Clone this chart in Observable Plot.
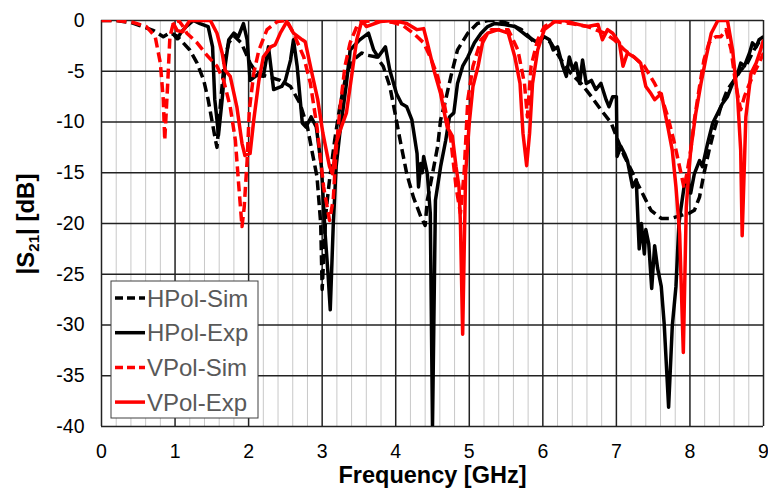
<!DOCTYPE html>
<html><head><meta charset="utf-8">
<script src="https://cdn.jsdelivr.net/npm/d3@7"></script>
<script src="https://cdn.jsdelivr.net/npm/@observablehq/plot@0.6"></script>
<style>body{margin:0;background:#fff} svg{display:block}</style>
</head><body><div id="chart"></div>
<script>
const xMajor = [0,1,2,3,4,5,6,7,8,9];
const xMinor = [0.2,0.4,0.6,0.8,1.2,1.4,1.6,1.8,2.2,2.4,2.6,2.8,3.2,3.4,3.6,3.8,4.2,4.4,4.6,4.8,5.2,5.4,5.6,5.8,6.2,6.4,6.6,6.8,7.2,7.4,7.6,7.8,8.2,8.4,8.6,8.8];
const yMajor = [0,-5,-10,-15,-20,-25,-30,-35,-40];

const seriesNames = ["HPol-Sim","HPol-Exp","VPol-Sim","VPol-Exp"];
const seriesColors = ["#000000","#000000","#ff0000","#ff0000"];
const seriesDashed = [true,false,true,false];

const hpolSim = [[0,0],[0.2,0],[0.4,-0.2],[0.52,-0.5],[0.71,-1.0],[0.84,-1.6],[0.93,-1.2],[1.02,-1.5],[1.11,-2.2],[1.2,-2.9],[1.3,-4.2],[1.39,-5.9],[1.45,-7.8],[1.5,-9.8],[1.55,-11.8],[1.57,-12.5],[1.62,-8],[1.67,-4],[1.73,-2.2],[1.8,-1.5],[1.9,-2.2],[1.98,-3.5],[2.02,-4.2],[2.11,-5.2],[2.25,-5.5],[2.43,-5.9],[2.57,-6.5],[2.7,-8.2],[2.8,-10.5],[2.86,-12.8],[2.93,-15.4],[2.98,-20],[3.0,-26.5],[3.05,-19],[3.1,-15.7],[3.17,-11.8],[3.24,-8.5],[3.33,-5.2],[3.42,-3.9],[3.54,-3.2],[3.6,-3.4],[3.74,-3.6],[3.83,-4.5],[3.92,-6.5],[3.99,-9.1],[4.06,-11.8],[4.15,-15.1],[4.24,-17.4],[4.34,-19.3],[4.4,-20.2],[4.43,-17.7],[4.5,-15.1],[4.57,-12.4],[4.61,-9.8],[4.68,-7.8],[4.75,-5.5],[4.84,-2.9],[4.98,-1.25],[5.11,-0.3],[5.25,0],[5.4,0],[5.57,-0.4],[5.71,-0.9],[5.8,-1.5],[5.89,-2.2],[6.0,-1.6],[6.11,-2.2],[6.25,-3.9],[6.38,-5.2],[6.52,-6.2],[6.66,-7.5],[6.79,-8.8],[6.93,-10.1],[7.02,-11.8],[7.11,-13.4],[7.2,-14.7],[7.29,-16.1],[7.38,-17.4],[7.47,-18.7],[7.61,-19.5],[7.74,-19.5],[7.88,-19.2],[7.99,-19.0],[8.06,-18.7],[8.13,-17.4],[8.19,-15.1],[8.26,-12.8],[8.33,-10.8],[8.42,-8.5],[8.51,-6.8],[8.6,-5.9],[8.69,-4.9],[8.78,-4.2],[8.87,-2.9],[8.96,-1.9],[9,-1.6]];

const hpolExp = [[0.97,-1.3],[1.03,-1.8],[1.08,-1.2],[1.15,-0.6],[1.25,0],[1.34,-0.3],[1.45,-0.6],[1.51,-2.6],[1.54,-7.8],[1.57,-9.8],[1.59,-11.3],[1.64,-7.8],[1.68,-4.5],[1.73,-1.9],[1.8,-1.25],[1.86,-1.6],[1.93,-0.3],[1.98,-1.9],[2.02,-5.9],[2.11,-5.4],[2.2,-5.5],[2.27,-2.6],[2.34,-6.8],[2.45,-6.5],[2.5,-5.9],[2.57,-3.9],[2.61,-1.9],[2.66,-4.5],[2.73,-10.1],[2.78,-10.5],[2.85,-9.5],[2.92,-10.5],[2.99,-14.4],[3.04,-21],[3.08,-25],[3.11,-28.5],[3.15,-20.3],[3.19,-14.4],[3.24,-11.1],[3.33,-6.2],[3.38,-2.9],[3.42,-2.6],[3.51,-1.9],[3.63,-1.25],[3.7,-2.9],[3.76,-3.6],[3.86,-2.6],[3.92,-4.9],[4.01,-7.2],[4.08,-8.2],[4.15,-8.5],[4.22,-9.8],[4.29,-13.1],[4.31,-16.4],[4.34,-14.1],[4.36,-15],[4.38,-13.4],[4.43,-15.1],[4.47,-19],[4.5,-40],[4.54,-17.7],[4.61,-14.4],[4.68,-11.8],[4.73,-9.5],[4.79,-9.1],[4.84,-6.2],[4.91,-4.5],[4.98,-3.6],[5.07,-2.2],[5.16,-1.25],[5.25,-0.6],[5.34,-0.3],[5.48,-0.4],[5.62,-0.6],[5.71,-1.1],[5.8,-1.6],[5.93,-2.2],[6.02,-1.6],[6.09,-1.9],[6.14,-2.9],[6.2,-2.6],[6.27,-4.5],[6.32,-5.5],[6.36,-3.6],[6.41,-4.9],[6.45,-4.2],[6.5,-6.2],[6.54,-3.9],[6.59,-6.2],[6.66,-5.9],[6.72,-6.8],[6.79,-6.2],[6.86,-7.8],[6.9,-8.5],[6.95,-7.5],[7.0,-7.5],[7.01,-13.4],[7.06,-12.4],[7.11,-13.1],[7.15,-13.8],[7.22,-16.4],[7.27,-15.7],[7.31,-22.5],[7.34,-20],[7.38,-23],[7.4,-20.6],[7.44,-22],[7.48,-26.4],[7.52,-22.2],[7.56,-24.4],[7.61,-26.2],[7.65,-29.9],[7.71,-38.1],[7.76,-30.1],[7.81,-26.2],[7.85,-20],[7.88,-18.4],[7.92,-16.4],[7.97,-15.7],[8.01,-17],[8.06,-15.1],[8.13,-13.8],[8.17,-14.4],[8.24,-12.1],[8.31,-10.1],[8.38,-9.1],[8.44,-8.2],[8.51,-7.5],[8.58,-6.2],[8.65,-5.2],[8.69,-4.2],[8.74,-4.5],[8.81,-3.2],[8.85,-2.2],[8.9,-2.6],[8.94,-1.9],[9.0,-1.6]];

const vpolSim = [[0,0],[0.2,0],[0.43,-0.2],[0.61,-0.6],[0.73,-1.6],[0.8,-4.2],[0.84,-7.8],[0.86,-11.8],[0.9,-6.2],[0.93,-1.6],[0.98,-0.2],[1.05,0],[1.1,-0.5],[1.16,-1.25],[1.3,-2.2],[1.43,-3.4],[1.57,-4.5],[1.66,-5.9],[1.75,-8.5],[1.82,-11.8],[1.86,-15.7],[1.91,-20.3],[1.94,-18.4],[1.98,-13.8],[2.01,-8.8],[2.07,-5.2],[2.14,-2.9],[2.25,-0.9],[2.39,-0.1],[2.52,0],[2.61,-1.25],[2.75,-3.6],[2.84,-6.2],[2.93,-10.5],[3.02,-16.4],[3.1,-19.7],[3.15,-17.7],[3.19,-12.8],[3.24,-8.8],[3.31,-4.5],[3.38,-2.2],[3.47,-0.6],[3.54,-0.1],[3.79,0],[3.97,-0.2],[4.1,-0.5],[4.24,-1.25],[4.38,-2.2],[4.47,-3.6],[4.57,-5.5],[4.66,-8.2],[4.75,-11.8],[4.82,-16.4],[4.88,-19],[4.93,-15],[4.98,-7.8],[5.05,-4.5],[5.16,-1.9],[5.3,-0.9],[5.53,-0.9],[5.66,-2.9],[5.75,-6.2],[5.79,-9.5],[5.84,-4.5],[5.93,-1.9],[6.02,-0.6],[6.16,-0.1],[6.38,-0.3],[6.61,-0.6],[6.84,-1.25],[6.97,-1.9],[7.11,-2.9],[7.24,-3.6],[7.38,-4.5],[7.52,-6.2],[7.61,-7.5],[7.7,-9.5],[7.79,-12.1],[7.88,-15.1],[7.92,-16.5],[7.96,-15],[8.01,-12.8],[8.06,-9.8],[8.13,-6.5],[8.19,-3.9],[8.26,-2.2],[8.35,-1.6],[8.42,-1.6],[8.49,-0.9],[8.56,-2.9],[8.62,-6.2],[8.69,-8.8],[8.74,-7.5],[8.81,-6.2],[8.87,-5.2],[8.94,-4.2],[9,-3.2]];

const vpolExp = [[0.97,-0.2],[1.03,-1.0],[1.1,-1.1],[1.2,0],[1.48,0],[1.57,-1.25],[1.64,-3.2],[1.68,-4.9],[1.75,-5.5],[1.84,-8.5],[1.91,-12.1],[1.95,-13.3],[2.02,-13.1],[2.07,-9.8],[2.14,-5.9],[2.2,-3.6],[2.3,-2.6],[2.36,-2.4],[2.43,-1.25],[2.52,-0.1],[2.61,-1.25],[2.73,-1.9],[2.77,-2.1],[2.87,-5.5],[2.94,-7.8],[3.01,-11.1],[3.1,-14.4],[3.14,-15.1],[3.19,-12.1],[3.26,-10.5],[3.33,-9.1],[3.4,-5.5],[3.47,-1.9],[3.54,0],[3.6,-0.6],[3.79,-0.1],[3.97,0],[4.15,-0.3],[4.29,-0.9],[4.38,-0.8],[4.43,-2.2],[4.52,-4.9],[4.61,-7.2],[4.7,-10.5],[4.77,-11.4],[4.82,-14.4],[4.86,-16.4],[4.88,-20],[4.91,-30.9],[4.95,-15.1],[5.0,-10.1],[5.05,-6.5],[5.12,-4.5],[5.18,-2.2],[5.25,-1.25],[5.39,-0.9],[5.53,-1.25],[5.62,-3.6],[5.69,-6.2],[5.73,-11.1],[5.78,-14.3],[5.82,-11.1],[5.86,-6.2],[5.93,-2.9],[6.02,-0.9],[6.16,-0.1],[6.29,0],[6.43,-0.3],[6.61,-0.6],[6.75,-0.4],[6.81,-1.9],[6.88,-0.9],[6.95,-1.25],[7.04,-2.2],[7.09,-4.5],[7.15,-3.2],[7.24,-3.6],[7.33,-4.2],[7.4,-6.5],[7.47,-7.2],[7.52,-7.8],[7.61,-7.2],[7.7,-10.5],[7.76,-12.8],[7.81,-16.4],[7.86,-21],[7.91,-32.7],[7.95,-18.4],[7.97,-16.4],[8.01,-12.8],[8.08,-9.1],[8.15,-6.2],[8.22,-3.6],[8.29,-1.25],[8.38,0],[8.51,0],[8.58,-2.9],[8.65,-7.8],[8.69,-12.8],[8.71,-21.2],[8.76,-9.5],[8.83,-5.2],[8.9,-4.2],[8.96,-2.9],[9,-1.9]];

const seriesData = [hpolSim, hpolExp, vpolSim, vpolExp];
const FONT = "'Liberation Sans', Arial, Helvetica, sans-serif";
const DASH = "10,5";

const lineMarks = seriesData.map((data, i) => Plot.line(data, {
  x: d => d[0], y: d => d[1],
  stroke: seriesColors[i], strokeWidth: 3.5,
  strokeDasharray: seriesDashed[i] ? DASH : null,
  strokeLinejoin: "round", strokeLinecap: "butt", clip: true
}));

const chart = Plot.plot({
  width: 768, height: 498,
  marginLeft: 101, marginRight: 5, marginTop: 20, marginBottom: 72,
  style: {fontFamily: FONT, fontSize: "19px", color: "#000", background: "#fff"},
  x: {domain: [0, 9]},
  y: {domain: [-40, 0]},
  marks: [
    Plot.ruleX(xMinor, {stroke: "#c8c8c8", strokeWidth: 1}),
    Plot.ruleX(xMajor, {stroke: "#222", strokeWidth: 1.5}),
    Plot.ruleY(yMajor, {stroke: "#222", strokeWidth: 1.5}),
    ...lineMarks,
    Plot.axisX(xMajor, {tickSize: 0, tickPadding: 18, fontSize: 19.5, label: null, tickFormat: d => String(d)}),
    Plot.axisY(yMajor, {tickSize: 0, tickPadding: 17, fontSize: 19.5, label: null, tickFormat: d => String(d)}),
    Plot.text(["Frequency [GHz]"], {frameAnchor: "bottom", dy: 56, fontSize: 23.5, fontWeight: "bold", fill: "#000"})
  ]
});
document.getElementById("chart").appendChild(chart);

const svg = d3.select(chart);
// y-axis title with subscript
const yt = svg.append("text")
  .attr("transform", "translate(34,224) rotate(-90)")
  .attr("text-anchor", "middle")
  .attr("font-family", FONT).attr("font-weight", "bold").attr("font-size", 24).attr("fill", "#000");
yt.append("tspan").text("|S");
yt.append("tspan").attr("font-size", 15).attr("dy", 5).text("21");
yt.append("tspan").attr("dy", -5).text("| [dB]");

// legend
const lg = svg.append("g").attr("font-family", FONT).attr("text-anchor", "start");
lg.append("rect").attr("x", 111).attr("y", 281).attr("width", 147).attr("height", 137)
  .attr("fill", "#fff").attr("stroke", "#404040").attr("stroke-width", 1);
seriesNames.forEach((name, i) => {
  const yy = 298 + i * 34.7;
  lg.append("line").attr("x1", 115).attr("x2", 145).attr("y1", yy).attr("y2", yy)
    .attr("stroke", seriesColors[i]).attr("stroke-width", 3.5)
    .attr("stroke-dasharray", seriesDashed[i] ? "8,4" : null);
  lg.append("text").attr("x", 147).attr("y", yy + 8.5).attr("font-size", 24)
    .attr("text-anchor", "start").attr("fill", "#595959").text(name);
});
</script>
</body></html>
